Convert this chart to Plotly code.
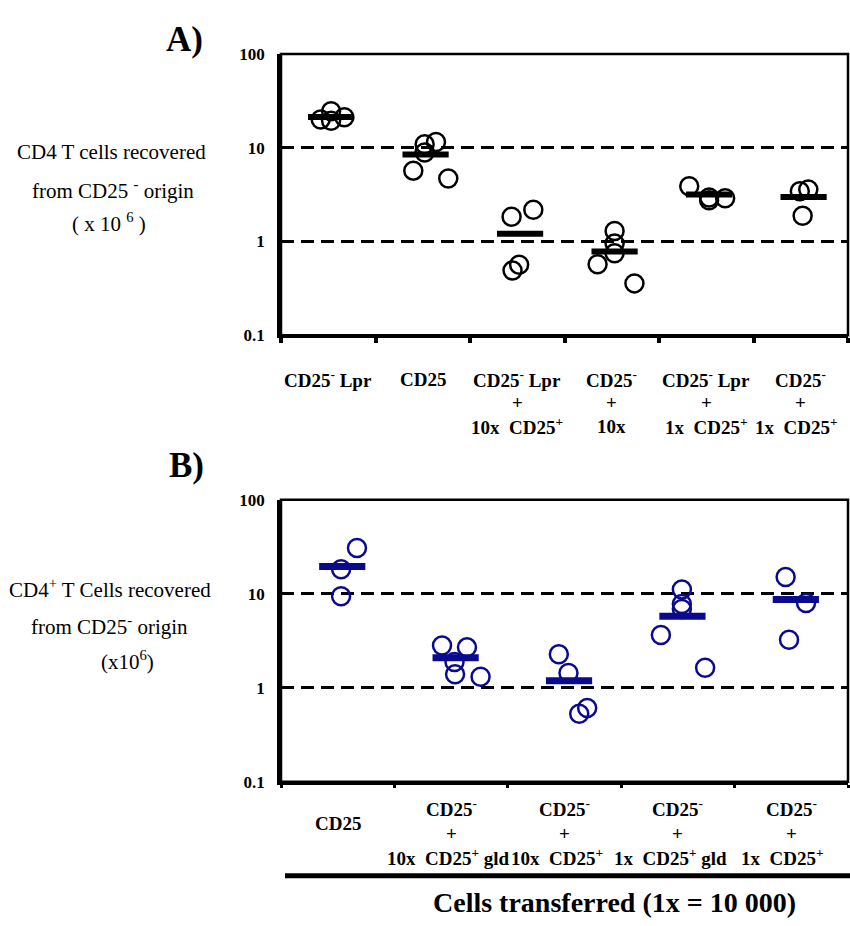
import plotly.graph_objects as go

W, H = 850, 926
FONT = "Liberation Serif"
NAVY = "#0A0A8F"

# ---------------- data ----------------
# Panel A (CD4 T cells recovered, x 10^6)
a_top_labels = ["CD25<sup>-</sup> Lpr", "CD25", "CD25<sup>-</sup> Lpr", "CD25<sup>-</sup>",
                "CD25<sup>-</sup> Lpr", "CD25<sup>-</sup>"]
a_mid_labels = ["", "", "+", "+", "+", "+"]
a_bot_labels = ["", "", "10x\u00a0 CD25<sup>+</sup>", "10x", "1x\u00a0 CD25<sup>+</sup>",
                "1x\u00a0 CD25<sup>+</sup>"]
a_values = [
    [20.0, 24.5, 19.4, 21.2],
    [10.9, 11.5, 8.9, 5.7, 4.7],
    [1.84, 2.18, 0.565, 0.49],
    [1.29, 0.95, 0.75, 0.57, 0.357],
    [3.89, 2.94, 2.75, 2.89],
    [3.44, 3.59, 1.88],
]
a_jitter = [
    [-0.08, 0.03, 0.03, 0.17],
    [0.02, 0.14, 0.02, -0.10, 0.27],
    [-0.06, 0.17, 0.02, -0.05],
    [0.03, 0.03, 0.03, -0.15, 0.24],
    [-0.18, 0.03, 0.03, 0.20],
    [-0.01, 0.08, 0.02],
]
a_means = [21.3, 8.5, 1.21, 0.78, 3.18, 2.98]

# Panel B (CD4+ T cells recovered, x10^6)
b_top_labels = ["CD25", "CD25<sup>-</sup>", "CD25<sup>-</sup>", "CD25<sup>-</sup>", "CD25<sup>-</sup>"]
b_mid_labels = ["", "+", "+", "+", "+"]
b_bot_labels = ["", "10x\u00a0 CD25<sup>+</sup> gld", "10x\u00a0 CD25<sup>+</sup>",
                "1x\u00a0 CD25<sup>+</sup> gld", "1x\u00a0 CD25<sup>+</sup>"]
b_values = [
    [18.2, 30.7, 9.4],
    [2.82, 2.69, 1.88, 1.39, 1.31],
    [2.27, 1.44, 0.53, 0.61],
    [11.1, 7.8, 6.9, 3.65, 1.63],
    [15.1, 7.96, 3.24],
]
b_jitter = [
    [0.03, 0.17, 0.03],
    [-0.08, 0.14, 0.03, 0.035, 0.26],
    [-0.05, 0.035, 0.13, 0.2],
    [0.035, 0.035, 0.035, -0.15, 0.24],
    [-0.05, 0.13, -0.02],
]
b_means = [19.5, 2.08, 1.19, 5.77, 8.7]

y_tickvals = [0.1, 1, 10, 100]
y_ticktext = ["0.1", "1", "10", "100"]

# ---------------- helpers (page pixel -> paper) ----------------
def py(p):
    return 1 - p / H

def px(p):
    return p / W

fig = go.Figure()

def add_panel(values, jitter, means, color, xa, ya, mean_shift, msize, bar_w):
    xs, ys = [], []
    for i, (vals, jit) in enumerate(zip(values, jitter)):
        for v, j in zip(vals, jit):
            xs.append(i + j)
            ys.append(v)
    fig.add_trace(go.Scatter(
        x=xs, y=ys, mode="markers", xaxis=xa, yaxis=ya, showlegend=False,
        hoverinfo="skip",
        marker=dict(symbol="circle-open", size=msize, color=color,
                    line=dict(color=color, width=2.5)),
    ))
    fig.add_trace(go.Scatter(
        x=[i + mean_shift for i in range(len(means))], y=means, mode="markers",
        xaxis=xa, yaxis=ya, showlegend=False, hoverinfo="skip",
        marker=dict(symbol="line-ew", size=33, color=color,
                    line=dict(color=color, width=bar_w)),
    ))

add_panel(a_values, a_jitter, a_means, "black", "x", "y", 0.03, 18, 6)
add_panel(b_values, b_jitter, b_means, NAVY, "x2", "y2", 0.04, 18, 7)

tickfont = dict(family=FONT, size=17, color="black", weight="bold")

def yaxis_cfg(domain, anchor):
    return dict(
        type="log", range=[-1, 2], domain=domain, anchor=anchor,
        tickvals=y_tickvals, ticktext=y_ticktext,
        showgrid=True, gridcolor="black", gridwidth=3, griddash="13px,7px",
        showline=True, linecolor="black", linewidth=3.5, ticks="",
        tickfont=tickfont, ticklabelstandoff=9, zeroline=False,
    )

def xaxis_cfg(n, domain, anchor, ticklen, tickwidth):
    return dict(
        range=[-0.5, n - 0.5], domain=domain, anchor=anchor,
        tickvals=[k - 0.5 for k in range(n + 1)], showticklabels=False,
        ticks="outside", ticklen=ticklen, tickwidth=tickwidth, tickcolor="black",
        showgrid=False, zeroline=False, showline=True, linecolor="black", linewidth=2.5,
    )

xdom = [px(281), px(848)]
fig.update_layout(
    width=W, height=H, margin=dict(l=0, r=0, t=0, b=0),
    paper_bgcolor="white", plot_bgcolor="white",
    xaxis=xaxis_cfg(6, xdom, "y", 5, 4),
    yaxis=yaxis_cfg([py(333), py(46)], "x"),
    xaxis2=xaxis_cfg(5, xdom, "y2", 3, 3),
    yaxis2=yaxis_cfg([py(789), py(501)], "x2"),
)

# borders (box around plot areas)
for xr, yr in [("x domain", "y domain"), ("x2 domain", "y2 domain")]:
    fig.add_shape(type="rect", xref=xr, yref=yr, x0=0, x1=1, y0=0, y1=1,
                  line=dict(color="black", width=2.5), layer="above")

annots = []
lab_font = dict(family=FONT, size=19, color="black", weight="bold")

def add_labels(labels, xref, ypix, shifts=None):
    for i, t in enumerate(labels):
        if not t:
            continue
        annots.append(dict(x=i, y=py(ypix), xref=xref, yref="paper", text=t,
                           showarrow=False, font=lab_font, xanchor="center", yanchor="middle",
                           xshift=(shifts[i] if shifts else 0)))

add_labels(a_top_labels, "x", 378)
add_labels(a_mid_labels, "x", 402)
add_labels(a_bot_labels, "x", 426, shifts=[0, 0, 0, 0, 0, -4])

add_labels(b_top_labels[:1], "x2", 832)
add_labels([""] + b_top_labels[1:], "x2", 816)
add_labels(b_mid_labels, "x2", 842)
add_labels(b_bot_labels, "x2", 866, shifts=[0, -3, -8, -7, -9])

reg = dict(family=FONT, size=21, color="black")
for text, xp, yp in [
    ("CD4 T cells recovered", 111, 146),
    ("from CD25 <sup>-</sup> origin", 113, 184),
    ("( x 10 <sup>6</sup> )", 109, 218),
    ("CD4<sup>+</sup> T Cells recovered", 110, 592),
    ("from CD25<sup>-</sup> origin", 109, 629),
    ("(x10<sup>6</sup>)", 127, 665),
]:
    annots.append(dict(x=px(xp), y=py(yp), xref="paper", yref="paper", text=text,
                       showarrow=False, font=reg, xanchor="center", yanchor="middle"))

big = dict(family=FONT, size=35, color="black", weight="bold")
annots.append(dict(x=px(184), y=py(31), xref="paper", yref="paper", text="A)",
                   showarrow=False, font=big, xanchor="center", yanchor="middle"))
annots.append(dict(x=px(186), y=py(466), xref="paper", yref="paper", text="B)",
                   showarrow=False, font=big, xanchor="center", yanchor="middle"))

annots.append(dict(x=px(614), y=py(912), xref="paper", yref="paper",
                   text="Cells transferred (1x = 10 000)", showarrow=False,
                   font=dict(family=FONT, size=28, color="black", weight="bold"),
                   xanchor="center", yanchor="middle"))

fig.add_shape(type="line", xref="paper", yref="paper", x0=px(285), x1=1.0,
              y0=py(885), y1=py(885), line=dict(color="black", width=5))

fig.update_layout(annotations=annots)

fig.write_html(
    "out.html",
    config={"displayModeBar": False},
    post_script="document.body.style.margin='0';document.body.style.overflow='hidden';"
                "document.documentElement.style.overflow='hidden';",
)
